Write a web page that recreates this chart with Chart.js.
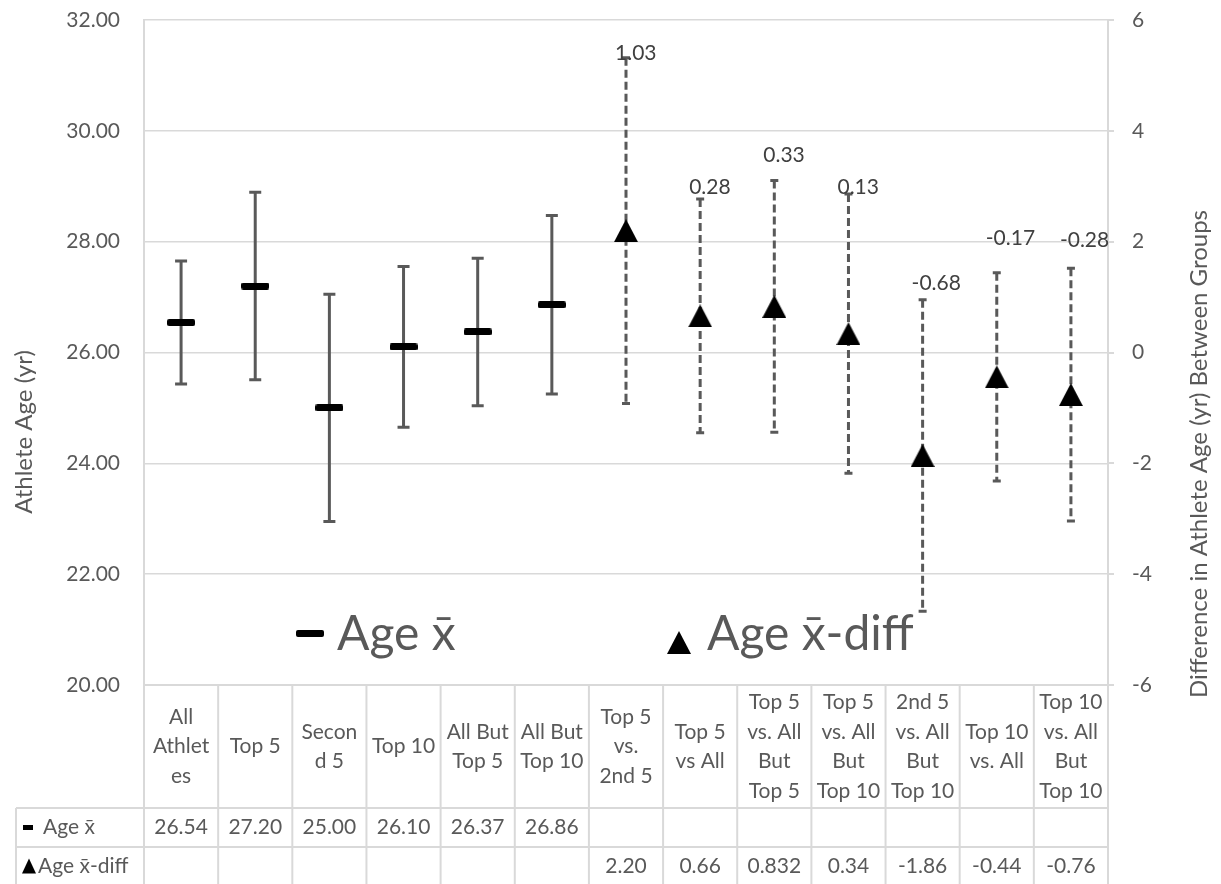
<!DOCTYPE html>
<html>
<head>
<meta charset="utf-8">
<title>Athlete Age by Group</title>
<script src="https://cdn.jsdelivr.net/npm/chart.js@4.4.1/dist/chart.umd.min.js"></script>
<style>
  html, body { margin: 0; padding: 0; background: #fff; }
  #wrap { width: 1221px; height: 884px; }
</style>
</head>
<body>
<div id="wrap"><canvas id="ageChart" width="1221" height="884"></canvas></div>
<script>
// groups, wrapped the way the table header wraps them
const groups = [
  ["All", "Athlet", "es"],
  ["Top 5"],
  ["Secon", "d 5"],
  ["Top 10"],
  ["All But", "Top 5"],
  ["All But", "Top 10"],
  ["Top 5", "vs.", "2nd 5"],
  ["Top 5", "vs All"],
  ["Top 5", "vs. All", "But", "Top 5"],
  ["Top 5", "vs. All", "But", "Top 10"],
  ["2nd 5", "vs. All", "But", "Top 10"],
  ["Top 10", "vs. All"],
  ["Top 10", "vs. All", "But", "Top 10"]
];

const ageLabel = "Age x\u0304";
const diffLabel = "Age x\u0304-diff";

// mean age (left axis) and its error bar half-width
const ageMean = [26.54, 27.20, 25.00, 26.10, 26.37, 26.86, null, null, null, null, null, null, null];
const ageErr = [1.11, 1.69, 2.05, 1.45, 1.33, 1.61, null, null, null, null, null, null, null];

// difference between groups (right axis) and its error bar half-width
const diffMean = [null, null, null, null, null, null, 2.20, 0.66, 0.832, 0.34, -1.86, -0.44, -0.76];
const diffErr = [null, null, null, null, null, null, 3.12, 2.11, 2.27, 2.52, 2.81, 1.88, 2.28];
const diffNotes = [null, null, null, null, null, null, "1.03", "0.28", "0.33", "0.13", "-0.68", "-0.17", "-0.28"];

const ageTicks = [20, 22, 24, 26, 28, 30, 32];
const diffTicks = [-6, -4, -2, 0, 2, 4, 6];

// ---------- styling ----------
const FONT = "Lato, 'Open Sans', sans-serif";
const TEXT = "#595959";
const LINE = "#d9d9d9";
const noteLift = [0, 0, 0, 0, 0, 0, 4, 12, 25, 7, 17, 34, 28]; // label gap above the cap, px

// table geometry below the plot
const headH = 123, rowH = 39, tableLeft = 16;

Chart.defaults.font.family = FONT;
Chart.defaults.color = TEXT;

// marker images, centred on the point
function makeDash(w, h) {
  const c = document.createElement("canvas");
  c.width = w; c.height = h;
  const g = c.getContext("2d");
  g.fillStyle = "#000";
  g.beginPath();
  if (g.roundRect) g.roundRect(0, 0, w, h, 2); else g.rect(0, 0, w, h);
  g.fill();
  return c;
}
function makeTri(w, h) {
  const c = document.createElement("canvas");
  c.width = w; c.height = h;
  const g = c.getContext("2d");
  g.fillStyle = "#000";
  g.beginPath();
  g.moveTo(w / 2, 0); g.lineTo(w, h); g.lineTo(0, h); g.closePath();
  g.fill();
  return c;
}
const dashMark = makeDash(28, 7);
const triMark = makeTri(24, 23);

const fmt = (v) => {
  const d = (String(v).split(".")[1] || "").length;
  return v.toFixed(Math.max(2, d));
};

function bar(ctx, px, top, bottom, cap, dash) {
  ctx.setLineDash(dash);
  ctx.beginPath();
  ctx.moveTo(px, top);
  ctx.lineTo(px, bottom);
  ctx.stroke();
  ctx.setLineDash([]);
  ctx.beginPath();
  ctx.moveTo(px - cap / 2, top); ctx.lineTo(px + cap / 2, top);
  ctx.moveTo(px - cap / 2, bottom); ctx.lineTo(px + cap / 2, bottom);
  ctx.stroke();
}

// error bars go under the markers
const errorBars = {
  id: "errorBars",
  beforeDatasetsDraw(chart) {
    const { ctx } = chart;
    const x = chart.scales.x, yL = chart.scales.y, yR = chart.scales.y2;
    ctx.save();
    ctx.strokeStyle = "#595959";
    ctx.lineWidth = 3;
    ageMean.forEach((m, i) => {
      if (m == null) return;
      bar(ctx, x.getPixelForValue(i), yL.getPixelForValue(m + ageErr[i]), yL.getPixelForValue(m - ageErr[i]), 12, []);
    });
    diffMean.forEach((m, i) => {
      if (m == null) return;
      bar(ctx, x.getPixelForValue(i), yR.getPixelForValue(m + diffErr[i]), yR.getPixelForValue(m - diffErr[i]), 8, [8, 4]);
    });
    ctx.restore();
  }
};

function hline(ctx, x1, x2, y) { ctx.beginPath(); ctx.moveTo(x1, y); ctx.lineTo(x2, y); ctx.stroke(); }
function vline(ctx, x, y1, y2) { ctx.beginPath(); ctx.moveTo(x, y1); ctx.lineTo(x, y2); ctx.stroke(); }

// notes, legend, axis titles and the data table
const extras = {
  id: "extras",
  afterDraw(chart) {
    const { ctx, chartArea: a } = chart;
    const x = chart.scales.x, yR = chart.scales.y2;
    ctx.save();

    // notes over the difference bars
    ctx.font = "21px " + FONT;
    ctx.fillStyle = "#404040";
    ctx.textAlign = "left";
    ctx.textBaseline = "middle";
    diffNotes.forEach((t, i) => {
      if (t == null) return;
      const capY = yR.getPixelForValue(diffMean[i] + diffErr[i]);
      ctx.fillText(t, x.getPixelForValue(i) - 11, capY - noteLift[i]);
    });

    // legend inside the plot
    ctx.font = "48px " + FONT;
    ctx.fillStyle = TEXT;
    ctx.textBaseline = "alphabetic";
    const ly = a.bottom - 35;
    ctx.drawImage(dashMark, a.left + 152, ly - 20);
    ctx.fillText(ageLabel, a.left + 193, ly);
    ctx.drawImage(triMark, a.left + 523, ly - 19);
    ctx.fillText(diffLabel, a.left + 563, ly);

    // axis titles
    ctx.font = "24px " + FONT;
    ctx.textAlign = "center";
    ctx.textBaseline = "middle";
    ctx.save();
    ctx.translate(24, 432);
    ctx.rotate(-Math.PI / 2);
    ctx.fillText("Athlete Age (yr)", 0, 0);
    ctx.restore();
    ctx.save();
    ctx.translate(1199, 454);
    ctx.rotate(-Math.PI / 2);
    ctx.fillText("Difference in Athlete Age (yr) Between Groups", 0, 0);
    ctx.restore();

    // data table
    const colW = (a.right - a.left) / groups.length;
    const headBottom = a.bottom + headH;
    const row1 = headBottom + rowH, row2 = row1 + rowH;
    ctx.strokeStyle = LINE;
    ctx.lineWidth = 2;
    for (let i = 0; i <= groups.length; i++) vline(ctx, a.left + i * colW, a.bottom, row2);
    vline(ctx, tableLeft, headBottom, row2);
    hline(ctx, a.left, a.right, a.bottom);
    hline(ctx, tableLeft, a.right, headBottom);
    hline(ctx, tableLeft, a.right, row1);
    hline(ctx, tableLeft, a.right, row2);

    ctx.font = "21px " + FONT;
    ctx.fillStyle = TEXT;
    ctx.textAlign = "center";
    const headMid = (a.bottom + headBottom) / 2;
    const r1Mid = (headBottom + row1) / 2, r2Mid = (row1 + row2) / 2;
    groups.forEach((lines, i) => {
      const px = x.getPixelForValue(i);
      lines.forEach((t, k) => ctx.fillText(t, px, headMid + (k - (lines.length - 1) / 2) * 29.5));
      if (ageMean[i] != null) ctx.fillText(fmt(ageMean[i]), px, r1Mid);
      if (diffMean[i] != null) ctx.fillText(fmt(diffMean[i]), px, r2Mid);
    });

    // series keys in the first column
    ctx.textAlign = "left";
    ctx.fillStyle = "#000";
    ctx.fillRect(tableLeft + 7, r1Mid - 2.5, 10, 5);
    ctx.beginPath();
    ctx.moveTo(tableLeft + 13, r2Mid - 8);
    ctx.lineTo(tableLeft + 20, r2Mid + 7);
    ctx.lineTo(tableLeft + 6, r2Mid + 7);
    ctx.closePath();
    ctx.fill();
    ctx.fillStyle = TEXT;
    ctx.fillText(ageLabel, tableLeft + 27, r1Mid);
    ctx.fillText(diffLabel, tableLeft + 22, r2Mid);

    ctx.restore();
  }
};

// fixed axis widths; the plot top comes from layout padding alone
const fixWidth = (w) => (s) => {
  s.width = w;
  s.paddingTop = 0;
  s.paddingBottom = 0;
};

const ctx = document.getElementById("ageChart").getContext("2d");
new Chart(ctx, {
  type: "line",
  data: {
    labels: groups.map((g) => g.join(" ")),
    datasets: [
      {
        label: ageLabel,
        data: ageMean,
        yAxisID: "y",
        showLine: false,
        pointStyle: dashMark,
        pointRadius: 10,
        pointHoverRadius: 10
      },
      {
        label: diffLabel,
        data: diffMean,
        yAxisID: "y2",
        showLine: false,
        pointStyle: triMark,
        pointRadius: 10,
        pointHoverRadius: 10
      }
    ]
  },
  options: {
    responsive: false,
    animation: false,
    devicePixelRatio: 1,
    layout: { padding: { top: 20, bottom: 884 - 685, left: 0, right: 0 } },
    plugins: {
      legend: { display: false },
      tooltip: { enabled: false }
    },
    scales: {
      x: { type: "category", offset: true, display: false },
      y: {
        position: "left",
        min: ageTicks[0],
        max: ageTicks[ageTicks.length - 1],
        afterFit: fixWidth(144),
        grid: { color: LINE, lineWidth: 1.5, drawTicks: false },
        border: { display: true, color: LINE, width: 2 },
        ticks: {
          stepSize: ageTicks[1] - ageTicks[0],
          padding: 24,
          color: TEXT,
          font: { size: 21 },
          callback: (v) => Number(v).toFixed(2)
        }
      },
      y2: {
        position: "right",
        min: diffTicks[0],
        max: diffTicks[diffTicks.length - 1],
        afterFit: fixWidth(113),
        grid: { drawOnChartArea: false, color: LINE, lineWidth: 2, drawTicks: true, tickLength: 6 },
        border: { display: true, color: LINE, width: 2 },
        ticks: {
          stepSize: diffTicks[1] - diffTicks[0],
          padding: 18,
          color: TEXT,
          font: { size: 21 }
        }
      }
    }
  },
  plugins: [errorBars, extras]
});
</script>
</body>
</html>
